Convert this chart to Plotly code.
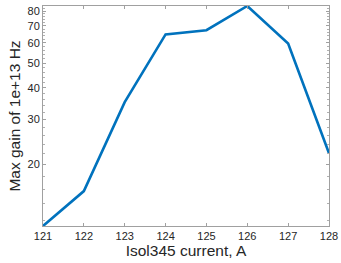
import plotly.graph_objects as go
import math

current = [121, 122, 123, 124, 125, 126, 127, 128]
gain = [11.45, 15.7, 35.1, 64.8, 67.3, 83.8, 59.7, 22.1]
y_ticks = [20, 30, 40, 50, 60, 70, 80]
y_minor = [12, 14, 16, 18, 22, 24, 26, 28, 32, 34, 36, 38, 42, 44, 46, 48,
           52, 54, 56, 58, 62, 64, 66, 68, 72, 74, 76, 78, 82]
x_ticks = [121, 122, 123, 124, 125, 126, 127, 128]

fig = go.Figure()
fig.add_trace(go.Scatter(x=current, y=gain, mode="lines",
                         line=dict(color="#0072BD", width=2.6)))

font_fam = "Liberation Sans, Arial, sans-serif"
fig.update_layout(
    width=341, height=263,
    margin=dict(l=43, r=12, t=6, b=37, autoexpand=False),
    plot_bgcolor="white", paper_bgcolor="white",
    showlegend=False,
    font=dict(family=font_fam, color="#262626"),
)
fig.update_xaxes(
    range=[121, 128], tickvals=x_ticks, ticks="inside", ticklen=3,
    tickcolor="#A0A0A0", showline=True, linecolor="#A0A0A0", linewidth=1,
    mirror="ticks", showgrid=False, zeroline=False, automargin=False,
    tickfont=dict(size=11, color="#262626"),
    title=dict(text="Isol345 current, A", font=dict(size=15.5, color="#262626"), standoff=2),
)
fig.update_yaxes(
    type="log", range=[math.log10(gain[0]), math.log10(max(gain))],
    tickvals=y_ticks, ticks="inside", ticklen=3,
    tickcolor="#A0A0A0", showline=True, linecolor="#A0A0A0", linewidth=1,
    mirror="ticks", showgrid=False, zeroline=False, automargin=False,
    minor=dict(tickvals=y_minor, ticks="inside", ticklen=2, tickcolor="#B0B0B0", showgrid=False),
    tickfont=dict(size=11, color="#262626"),
    title=dict(text="Max gain of 1e+13 Hz", font=dict(size=15.5, color="#262626"), standoff=3),
)
fig.write_html("out.html", config={"displayModeBar": False},
               post_script="document.body.style.margin='0';")
